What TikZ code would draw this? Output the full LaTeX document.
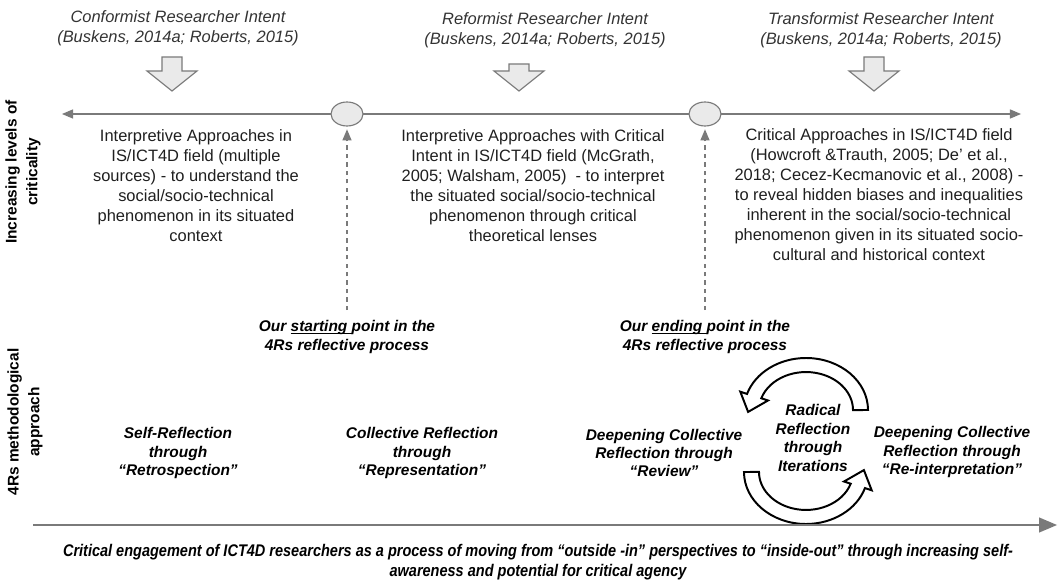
\documentclass[tikz,border=0pt]{standalone}
\usepackage{fontspec}
\setmainfont{Liberation Sans}
\newfontfamily\narrowfont[FakeStretch=0.86]{Liberation Sans}
\usepackage{tikz}
\usetikzlibrary{arrows,shapes.geometric}

\definecolor{axisgray}{HTML}{7A7A7A}
\definecolor{boxgray}{HTML}{EAEAEA}

\newcommand{\lowrule}[1]{\setbox0\hbox{#1}\rlap{\rule[-1.8pt]{\wd0}{0.7pt}}\box0}

\tikzset{
  intent/.style={align=center,inner sep=0pt,text=black!80,
    font=\fontsize{11.7}{14.2}\selectfont\itshape},
  approach/.style={align=center,inner sep=0pt,text=black!88,
    font=\fontsize{11.7}{14.2}\selectfont},
  stage/.style={align=center,inner sep=0pt,
    font=\fontsize{11}{13.1}\selectfont\bfseries\itshape},
  sidelabel/.style={align=center,inner sep=0pt,rotate=90,
    font=\fontsize{11}{14.6}\selectfont\bfseries},
  marker/.style={ellipse,draw=axisgray,fill=boxgray,thick,
    minimum width=0.8cm,minimum height=0.6cm,inner sep=0pt},
  downarrow/.style={draw=axisgray,fill=boxgray,thick,line join=miter},
  cyclearrow/.style={draw=black,fill=white,line width=1.4pt,line join=miter},
  caption/.style={align=center,inner sep=0pt,
    font=\narrowfont\fontsize{12}{13.8}\selectfont\bfseries\itshape},
}

\begin{document}
\begin{tikzpicture}[x=0.025cm,y=0.025cm]
		\useasboundingbox (0,0) rectangle (1060,-584);

		\node[intent] (conf) at (178,-28) {Conformist Researcher Intent\\(Buskens, 2014a; Roberts, 2015)};
		\node[intent] (reform) at (545,-30) {Reformist Researcher Intent\\(Buskens, 2014a; Roberts, 2015)};
		\node[intent] (trans) at (881,-30) {Transformist Researcher Intent\\(Buskens, 2014a; Roberts, 2015)};

		\foreach \x/\t in {172/57,519/64,874/57} {
		\draw[downarrow] (\x-10,-\t) -- (\x+10,-\t) -- (\x+10,-71) -- (\x+25,-71)
			-- (\x,-91) -- (\x-25,-71) -- (\x-10,-71) -- cycle;
		}

		\coordinate (axl) at (62,-114);
		\coordinate (axr) at (1021,-114);
		\draw[axisgray,thick,triangle 45-triangle 45] (axl) -- (axr);
		\node[marker] (start) at (347,-114) {};
		\node[marker] (end) at (705,-114) {};

		\coordinate (sfoot) at (347,-310);
		\coordinate (efoot) at (705,-310);
		\draw[axisgray,thick,dashed,-triangle 45,shorten >=2pt] (sfoot) -- (start);
		\draw[axisgray,thick,dashed,-triangle 45,shorten >=2pt] (efoot) -- (end);

		\node[sidelabel] (crit) at (23,-172) {Increasing levels of\\criticality};
		\node[sidelabel] (method) at (25,-422) {4Rs methodological\\approach};

		\node[approach] (interp) at (196,-186) {Interpretive Approaches in\\IS/ICT4D field (multiple\\sources) - to understand the\\social/socio-technical\\phenomenon in its situated\\context};
		\node[approach] (critint) at (533,-186) {Interpretive Approaches with Critical\\Intent in IS/ICT4D field (McGrath,\\2005; Walsham, 2005) \ - to interpret\\the situated social/socio-technical\\phenomenon through critical\\theoretical lenses};
		\node[approach] (critapp) at (879,-195) {Critical Approaches in IS/ICT4D field\\(Howcroft \&Trauth, 2005; De' et al.,\\2018; Cecez-Kecmanovic et al., 2008) -\\to reveal hidden biases and inequalities\\inherent in the social/socio-technical\\phenomenon given in its situated socio-\\cultural and historical context};

		\node[stage] (startpt) at (347,-337) {Our \lowrule{starting\ }point in the\\4Rs reflective process};
		\node[stage] (endpt) at (705,-337) {Our \lowrule{ending\ }point in the\\4Rs reflective process};

		\node[stage] (retro) at (178,-453) {Self-Reflection\\through\\“Retrospection”};
		\node[stage] (repr) at (422,-453) {Collective Reflection\\through\\“Representation”};
		\node[stage] (review) at (664,-453) {Deepening Collective\\Reflection through\\“Review”};
		\node[stage] (radical) at (813,-438) {Radical\\Reflection\\through\\Iterations};
		\node[stage] (reinterp) at (952,-452) {Deepening Collective\\Reflection through\\“Re-interpretation”};

		\foreach \r in {0,180} {
		\begin{scope}[rotate around={\r:(806,-441)}]
		\draw[cyclearrow] (868,-410) arc[start angle=0,end angle=162,x radius=62,y radius=52]
			-- (740.3,-391.7) -- (748.1,-411.9) -- (768,-400.5) -- (761.3,-398.3)
			arc[start angle=162,end angle=0,x radius=47,y radius=38] -- cycle;
		\end{scope}
		}

		\coordinate (bl) at (33,-525);
		\coordinate (br) at (1057,-525);
		\draw[axisgray,line width=2pt,-triangle 45] (bl) -- (br);

		\node[caption] (engage) at (538,-562) {Critical engagement of ICT4D researchers as a process of moving from “outside -in” perspectives to “inside-out” through increasing self-\\awareness and potential for critical agency};
	\end{tikzpicture}
\end{document}
